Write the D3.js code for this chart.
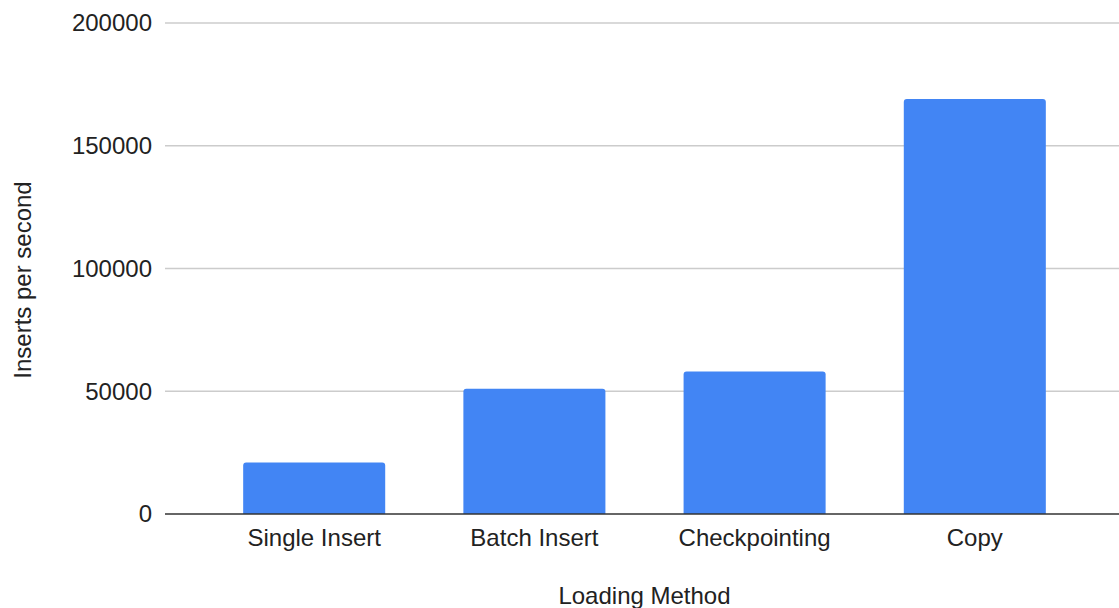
<!DOCTYPE html>
<html>
<head>
<meta charset="utf-8">
<script src="https://cdn.jsdelivr.net/npm/d3@7"></script>
<style>
  html, body { margin: 0; padding: 0; background: #fff; }
  svg { display: block; font-family: "Liberation Sans", Arial, sans-serif; }
</style>
</head>
<body>
<svg id="chart" width="1119" height="608"></svg>
<script>
// Insert throughput by loading method
const categories = ["Single Insert", "Batch Insert", "Checkpointing", "Copy"];
const insertsPerSecond = [21000, 51000, 58000, 169000];
const yTicks = [0, 50000, 100000, 150000, 200000];
const xTitle = "Loading Method";
const yTitle = "Inserts per second";

const svg = d3.select("#chart");
const plotLeft = 165, plotRight = 1124, plotTop = 23, plotBottom = 514;

const x = d3.scaleBand()
  .domain(categories)
  .range([plotLeft, plotRight])
  .paddingInner(0.355)
  .paddingOuter(0.355);

const y = d3.scaleLinear()
  .domain([0, 200000])
  .range([plotBottom, plotTop]);

// horizontal gridlines
svg.append("g")
  .selectAll("line")
  .data(yTicks.filter(d => d !== 0))
  .join("line")
  .attr("x1", plotLeft)
  .attr("x2", 1119)
  .attr("y1", d => y(d))
  .attr("y2", d => y(d))
  .attr("stroke", "#cccccc")
  .attr("stroke-width", 1.3);

// y tick labels
svg.append("g")
  .selectAll("text")
  .data(yTicks)
  .join("text")
  .attr("x", 152)
  .attr("y", d => y(d))
  .attr("dy", "0.35em")
  .attr("text-anchor", "end")
  .attr("font-size", 24)
  .attr("fill", "#222")
  .text(d => d3.format("d")(d));

// bars with slightly rounded top corners
const r = 3;
svg.append("g")
  .selectAll("path")
  .data(categories.map((c, i) => ({ c, v: insertsPerSecond[i] })))
  .join("path")
  .attr("fill", "#4285f4")
  .attr("d", d => {
    const x0 = x(d.c), w = x.bandwidth();
    const yt = y(d.v), yb = y(0);
    return `M${x0},${yb} V${yt + r} Q${x0},${yt} ${x0 + r},${yt} H${x0 + w - r} Q${x0 + w},${yt} ${x0 + w},${yt + r} V${yb} Z`;
  });

// baseline
svg.append("line")
  .attr("x1", plotLeft)
  .attr("x2", 1119)
  .attr("y1", y(0))
  .attr("y2", y(0))
  .attr("stroke", "#333")
  .attr("stroke-width", 1.6);

// category labels
svg.append("g")
  .selectAll("text")
  .data(categories)
  .join("text")
  .attr("x", d => x(d) + x.bandwidth() / 2)
  .attr("y", 546)
  .attr("text-anchor", "middle")
  .attr("font-size", 24)
  .attr("fill", "#222")
  .text(d => d);

// axis titles
svg.append("text")
  .attr("x", (plotLeft + plotRight) / 2)
  .attr("y", 604)
  .attr("text-anchor", "middle")
  .attr("font-size", 24)
  .attr("fill", "#222")
  .text(xTitle);

svg.append("text")
  .attr("transform", "translate(31,280) rotate(-90)")
  .attr("text-anchor", "middle")
  .attr("font-size", 24)
  .attr("fill", "#222")
  .text(yTitle);
</script>
</body>
</html>
